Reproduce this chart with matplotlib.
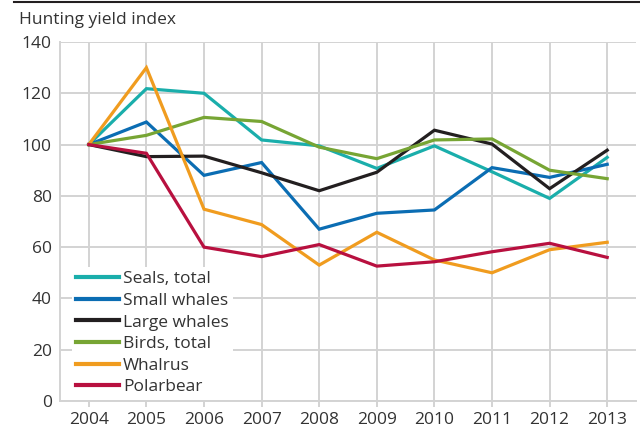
import matplotlib
matplotlib.use("Agg")
import matplotlib.pyplot as plt
from matplotlib.lines import Line2D

plt.rcParams['font.family'] = ['Open Sans', 'DejaVu Sans']

years = [2004, 2005, 2006, 2007, 2008, 2009, 2010, 2011, 2012, 2013]
seals = [100, 121.8, 120, 101.8, 99.5, 90.7, 99.5, 89.4, 79, 95]
small_whales = [100, 108.8, 88, 93, 67, 73.2, 74.5, 91, 87.2, 92.3]
large_whales = [100, 95.3, 95.5, 89, 82, 89.2, 105.6, 100.2, 82.8, 97.8]
birds = [100, 103.6, 110.6, 109, 99, 94.5, 101.8, 102.2, 90, 86.7]
whalrus = [100, 130, 74.8, 68.8, 53, 65.8, 55, 50, 59, 61.9]
polarbear = [100, 96.6, 60, 56.3, 61, 52.6, 54.3, 58.2, 61.5, 56]

series = [
    ("Seals, total", seals, "#1aaeab"),
    ("Small whales", small_whales, "#0b6db3"),
    ("Large whales", large_whales, "#231f20"),
    ("Birds, total", birds, "#77a534"),
    ("Whalrus", whalrus, "#f09c1f"),
    ("Polarbear", polarbear, "#b8103f"),
]

W, H = 640, 428
fig = plt.figure(figsize=(W / 100, H / 100), dpi=100)
ax = fig.add_axes([60 / W, (H - 401) / H, (636 - 60) / W, (401 - 42) / H])

grid_c = "#d3d3d3"
txt_c = "#333333"
fs = 12.5

for name, vals, col in series:
    ax.plot(years, vals, color=col, linewidth=2.3, label=name, zorder=3,
            solid_joinstyle="miter")

ax.set_xlim(2003.5, 2013.5)
ax.set_ylim(0, 140)
ax.set_xticks(years)
ax.set_yticks(range(0, 141, 20))
ax.grid(True, color=grid_c, linewidth=1.4, zorder=0)
ax.set_axisbelow(True)
for s in ["top", "right"]:
    ax.spines[s].set_visible(False)
for s in ["left", "bottom"]:
    ax.spines[s].set_color(grid_c)
    ax.spines[s].set_linewidth(1.4)
ax.tick_params(axis="x", length=4, width=1.4, color=grid_c, labelsize=fs,
               labelcolor=txt_c, pad=4)
ax.tick_params(axis="y", length=0, labelsize=fs, labelcolor=txt_c, pad=6)

# legend box: left ~72px, top ~267px in figure pixels
leg = ax.legend(loc="upper left",
                bbox_to_anchor=((72 - 60) / 576, (401 - 267) / 359),
                frameon=True, fontsize=fs, handlelength=2.45,
                handletextpad=0.25, labelspacing=0.31, borderpad=0.25,
                borderaxespad=0, labelcolor=txt_c)
leg.get_frame().set_facecolor("white")
leg.get_frame().set_edgecolor("none")
leg.get_frame().set_alpha(1)
leg.set_zorder(5)
for h in leg.legend_handles:
    h.set_linewidth(3)

fig.text(19 / W, 1 - 20 / H, "Hunting yield index", fontsize=fs, color=txt_c,
         va="center", ha="left")
fig.add_artist(Line2D([14 / W, 1], [1 - 2 / H, 1 - 2 / H], color="#231f20",
                      linewidth=1.5, transform=fig.transFigure))

fig.savefig("out.png", dpi=100)
